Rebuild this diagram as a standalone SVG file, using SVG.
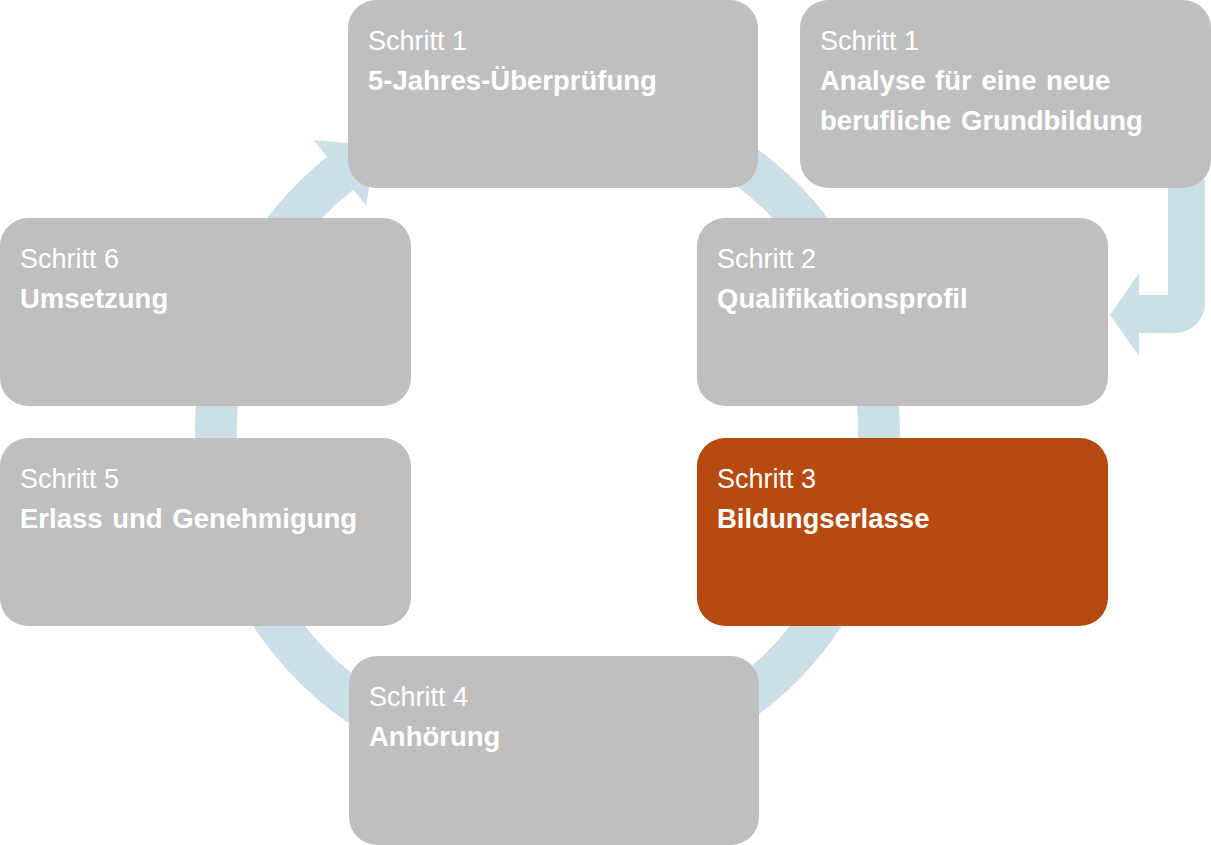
<svg xmlns="http://www.w3.org/2000/svg" width="1211" height="845" viewBox="0 0 1211 845">
<style>
.box{fill:#bfbfbf}
.hl{fill:#b64a0f}
.t{font-family:"Liberation Sans",Arial,sans-serif;font-size:27px;fill:#ffffff}
.b{font-weight:bold;font-size:27.5px;word-spacing:2px}
.ring{fill:none;stroke:#cbdfe8;stroke-width:42}
.fl{fill:#cbdfe8}
</style>
<rect width="1211" height="845" fill="#ffffff"/>
<g id="connectors">
<path class="ring" d="M434.1,120.5 A331.5,331.5 0 1 1 340.3,173.2"/>
<polygon class="fl" points="313.7,140.2 375.1,144.9 366.3,205.8"/>
<path class="fl" d="M1168,180 V295 H1139 V273 L1110,315 L1139,356 V333 H1175 A30,30 0 0 0 1205,303 V180 Z"/>
</g>
<g id="step1-review">
<rect class="box" x="348" y="0" width="410" height="188" rx="28"/>
<text class="t" x="368" y="50">Schritt 1</text>
<text class="t b" x="368" y="90">5-Jahres-Überprüfung</text>
</g>
<g id="step1-analysis">
<rect class="box" x="800" y="0" width="411" height="188" rx="28"/>
<text class="t" x="820" y="50">Schritt 1</text>
<text class="t b" x="820" y="90">Analyse für eine neue</text>
<text class="t b" x="820" y="130">berufliche Grundbildung</text>
</g>
<g id="step6">
<rect class="box" x="0" y="218" width="411" height="188" rx="28"/>
<text class="t" x="20" y="268">Schritt 6</text>
<text class="t b" x="20" y="308">Umsetzung</text>
</g>
<g id="step2">
<rect class="box" x="697" y="218" width="411" height="188" rx="28"/>
<text class="t" x="717" y="268">Schritt 2</text>
<text class="t b" x="717" y="308">Qualifikationsprofil</text>
</g>
<g id="step5">
<rect class="box" x="0" y="438" width="411" height="188" rx="28"/>
<text class="t" x="20" y="488">Schritt 5</text>
<text class="t b" x="20" y="528">Erlass und Genehmigung</text>
</g>
<g id="step3">
<rect class="hl" x="697" y="438" width="411" height="188" rx="28"/>
<text class="t" x="717" y="488">Schritt 3</text>
<text class="t b" x="717" y="528">Bildungserlasse</text>
</g>
<g id="step4">
<rect class="box" x="349" y="656" width="410" height="189" rx="28"/>
<text class="t" x="369" y="706">Schritt 4</text>
<text class="t b" x="369" y="746">Anhörung</text>
</g>
</svg>
